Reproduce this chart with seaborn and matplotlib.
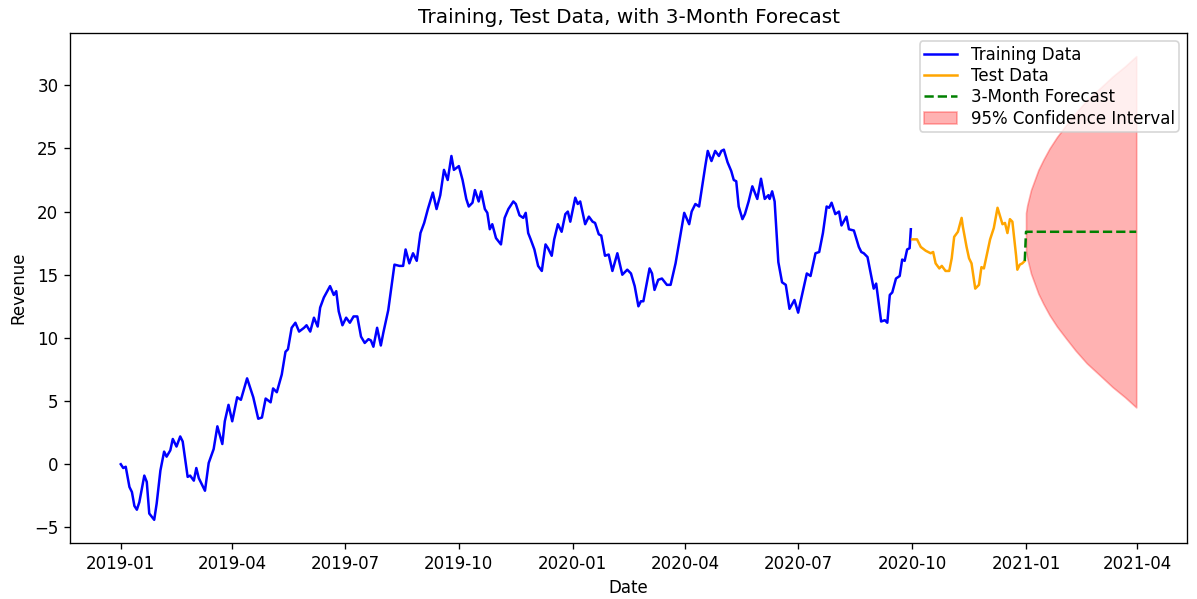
import numpy as np
import pandas as pd
import matplotlib
matplotlib.use("Agg")
import matplotlib.pyplot as plt
import matplotlib.dates as mdates
import seaborn as sns

# ─── Data ────────────────────────────────────────────────────────────────────

START = pd.Timestamp("2019-01-01")

# days since 2019-01-01, revenue
train_day = [0, 2, 4, 7, 9, 11, 13, 15, 19, 21, 23, 27, 29, 32, 35, 37, 40, 42, 45, 48,
             50, 54, 56, 59, 61, 63, 68, 71, 75, 78, 82, 84, 87, 90, 94, 97, 102, 107, 111, 114,
             117, 121, 123, 126, 130, 133, 135, 138, 141, 144, 148, 150, 153, 156, 159, 161, 164, 169, 172, 174,
             176, 179, 182, 185, 188, 191, 194, 197, 200, 202, 204, 207, 210, 212, 216, 221, 225, 228, 230, 233,
             236, 239, 242, 245, 248, 252, 255, 258, 261, 264, 267, 269, 273, 276, 279, 281, 284, 286, 289, 291,
             294, 296, 298, 300, 303, 307, 310, 313, 317, 319, 322, 325, 327, 329, 331, 334, 337, 340, 343, 345,
             348, 350, 353, 356, 359, 361, 363, 367, 369, 371, 375, 378, 381, 383, 386, 388, 391, 394, 397, 401,
             405, 409, 412, 415, 418, 420, 422, 427, 429, 431, 434, 437, 441, 444, 448, 451, 455, 459, 461, 464,
             467, 469, 472, 474, 477, 480, 483, 485, 487, 490, 493, 495, 497, 499, 502, 504, 507, 510, 514, 517,
             520, 523, 524, 526, 528, 531, 534, 537, 540, 544, 547, 549, 554, 557, 561, 564, 567, 570, 572, 574,
             577, 580, 582, 586, 588, 592, 596, 598, 600, 603, 606, 608, 610, 614, 617, 619, 621, 623, 626, 629,
             631, 633, 635, 637, 638]
train_rev = [0.0, -0.3, -0.2, -1.8, -2.2, -3.3, -3.6, -3.0, -0.9, -1.4, -3.9, -4.4, -3.1, -0.5, 1.0, 0.6, 1.1, 2.0, 1.4, 2.2,
             1.8, -1.0, -0.9, -1.3, -0.3, -1.1, -2.1, 0.1, 1.2, 3.0, 1.6, 3.4, 4.7, 3.4, 5.3, 5.1, 6.8, 5.3, 3.6, 3.7,
             5.2, 4.9, 6.0, 5.7, 7.1, 8.9, 9.1, 10.8, 11.2, 10.5, 10.8, 11.0, 10.5, 11.6, 10.9, 12.4, 13.2, 14.1, 13.4, 13.7,
             12.1, 11.0, 11.6, 11.2, 11.7, 11.7, 10.1, 9.6, 9.9, 9.8, 9.3, 10.8, 9.4, 10.4, 12.2, 15.8, 15.7, 15.7, 17.0, 15.9,
             16.7, 16.1, 18.3, 19.1, 20.2, 21.5, 20.2, 21.3, 23.3, 22.5, 24.4, 23.3, 23.6, 22.5, 21.0, 20.4, 20.7, 21.7, 20.8, 21.6,
             20.2, 19.9, 18.6, 19.0, 17.9, 17.4, 19.5, 20.2, 20.8, 20.6, 19.7, 19.5, 19.9, 18.3, 17.8, 17.0, 15.7, 15.3, 17.4, 17.1,
             16.5, 17.8, 19.0, 18.4, 19.8, 20.0, 19.2, 21.1, 20.6, 20.8, 19.0, 19.6, 19.2, 19.1, 18.2, 18.1, 16.5, 16.6, 15.3, 16.7,
             15.0, 15.4, 15.1, 14.1, 12.5, 12.9, 12.9, 15.5, 15.1, 13.8, 14.6, 14.7, 14.2, 14.2, 15.9, 17.6, 19.9, 19.0, 20.0, 20.6,
             20.4, 21.7, 23.6, 24.8, 24.0, 24.8, 24.4, 24.8, 24.9, 23.9, 23.2, 22.5, 22.4, 20.4, 19.4, 19.8, 20.8, 22.0, 21.0, 22.6,
             21.0, 21.3, 21.0, 21.6, 20.8, 16.0, 14.4, 14.2, 12.3, 13.0, 12.0, 12.9, 15.1, 14.9, 16.7, 16.8, 18.3, 20.4, 20.3, 20.7,
             19.8, 20.0, 18.9, 19.6, 18.6, 18.5, 17.2, 16.8, 16.7, 16.4, 14.9, 13.9, 14.3, 11.3, 11.4, 11.2, 13.4, 13.6, 14.7, 14.9,
             16.2, 16.1, 17.0, 17.1, 18.6]

test_day = [639, 643, 646, 650, 654, 656, 658, 661, 663, 666, 669, 671, 673, 676, 679, 680, 683, 685, 687, 690,
            693, 695, 697, 702, 705, 708, 712, 714, 716, 718, 720, 723, 724, 726, 728, 730]
test_rev = [17.8, 17.8, 17.2, 16.9, 16.7, 16.8, 15.9, 15.5, 15.7, 15.3, 15.3, 16.3, 18.0, 18.4, 19.5, 18.8, 17.2, 16.3, 15.9, 13.9,
            14.2, 15.6, 15.5, 17.8, 18.7, 20.3, 19.0, 19.1, 18.3, 19.4, 19.2, 16.5, 15.4, 15.8, 15.9, 16.1]

forecast_day = [730, 731, 820]
forecast_rev = [16.1, 18.4, 18.4]

ci_day = [731, 732, 733, 735, 738, 741, 745, 750, 756, 763, 771, 780, 790, 801, 811, 820]
ci_upper = [19.9, 20.5, 20.9, 21.7, 22.5, 23.3, 24.1, 25.0, 25.9, 26.8, 27.8, 28.8, 29.7, 30.7, 31.5, 32.3]
ci_lower = [16.9, 16.3, 15.9, 15.1, 14.3, 13.5, 12.7, 11.8, 10.9, 10.0, 9.0, 8.0, 7.1, 6.1, 5.3, 4.5]

W, H, DPI = 1197, 599, 120


def to_dates(days):
    return START + pd.to_timedelta(days, unit="D")


def main():
    train_df = pd.DataFrame({"Date": to_dates(train_day), "Revenue": train_rev})
    test_df = pd.DataFrame({"Date": to_dates(test_day), "Revenue": test_rev})
    fc_df = pd.DataFrame({"Date": to_dates(forecast_day), "Revenue": forecast_rev})
    ci_dates = to_dates(ci_day)

    fig, ax = plt.subplots(figsize=(W / DPI, H / DPI), dpi=DPI)
    fig.subplots_adjust(left=70 / W, right=1187 / W, top=1 - 33 / H, bottom=1 - 543 / H)

    sns.lineplot(data=train_df, x="Date", y="Revenue", color="blue", linewidth=1.5,
                 label="Training Data", ax=ax)
    sns.lineplot(data=test_df, x="Date", y="Revenue", color="orange", linewidth=1.5,
                 label="Test Data", ax=ax)
    sns.lineplot(data=fc_df, x="Date", y="Revenue", color="green", linestyle="--",
                 linewidth=1.5, label="3-Month Forecast", ax=ax)
    ax.fill_between(ci_dates, ci_lower, ci_upper, color="red", alpha=0.3,
                    label="95% Confidence Interval")

    ax.xaxis.set_major_locator(mdates.MonthLocator(bymonth=[1, 4, 7, 10]))
    ax.xaxis.set_major_formatter(mdates.DateFormatter("%Y-%m"))

    ax.set_title("Training, Test Data, with 3-Month Forecast")
    ax.set_xlabel("Date")
    ax.set_ylabel("Revenue")
    ax.legend(loc="upper right", labelspacing=0.2, borderpad=0.25)

    plt.savefig("out.png", dpi=DPI)
    plt.close()


if __name__ == "__main__":
    main()
